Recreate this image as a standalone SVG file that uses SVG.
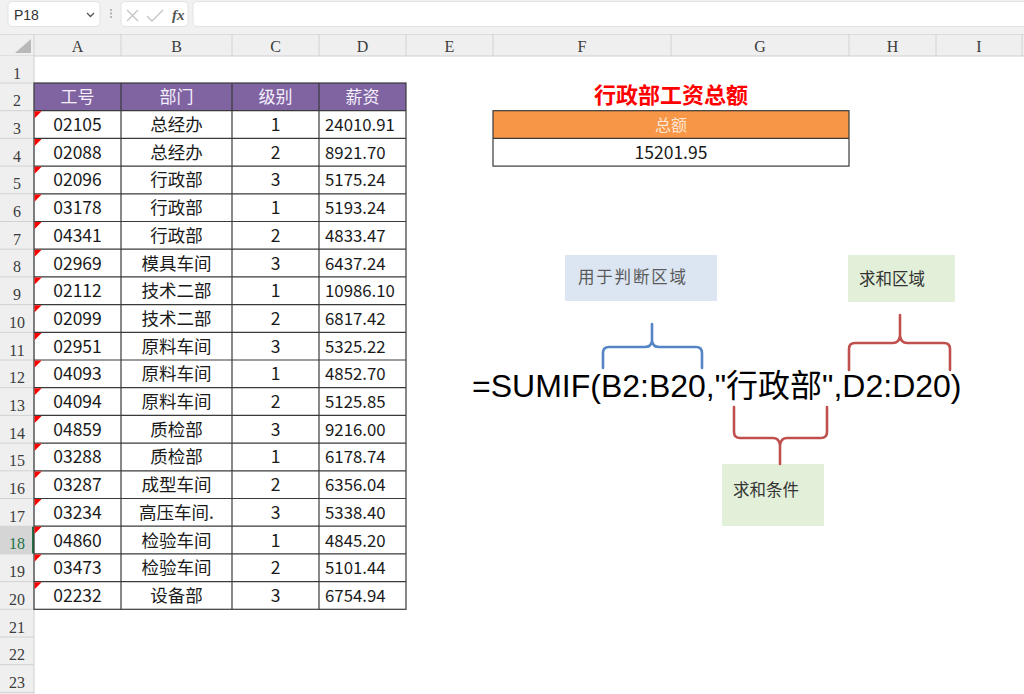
<svg xmlns="http://www.w3.org/2000/svg" width="1024" height="694" viewBox="0 0 1024 694">
<style>
.hdr{font-family:"Liberation Serif","DejaVu Serif",serif;font-size:16px;fill:#3c3c3c;text-anchor:middle}
.rn{font-family:"Liberation Serif","DejaVu Serif",serif;font-size:16px;fill:#3c3c3c;text-anchor:middle}
.cell{font-family:"Noto Sans CJK SC","Noto Sans",sans-serif;font-size:17.5px;fill:#1a1a1a;text-anchor:middle}
.num{font-family:"Noto Sans CJK SC","Noto Sans",sans-serif;font-size:16.8px;fill:#1a1a1a}
.th{font-family:"Noto Sans CJK SC","Noto Sans",sans-serif;font-size:17px;fill:#f4effa;text-anchor:middle}
.sep{stroke:#d2d2d2;stroke-width:1}
.grid{stroke:#3a3a3a;stroke-width:1.2;fill:none}
.tri{fill:#ff0000}
.brace{fill:none;stroke-width:2.6;stroke-linecap:round;stroke-linejoin:round}
.lbl{font-family:"Noto Sans CJK SC","Noto Sans",sans-serif;font-size:16.5px;fill:#333}
</style>

<!-- toolbar -->
<g id="toolbar">
<rect x="0" y="0" width="1024" height="34" fill="#f1f1f1"/>
<rect x="8" y="1.5" width="92" height="25" rx="4" fill="#ffffff" stroke="#e3e3e3"/>
<text x="14" y="19.5" font-family="Liberation Sans,Arial,sans-serif" font-size="14" fill="#333">P18</text>
<path d="M87,13 L90.5,16.5 L94,13" fill="none" stroke="#555" stroke-width="1.3"/>
<g fill="#9a9a9a"><circle cx="111" cy="10" r="0.9"/><circle cx="111" cy="13.5" r="0.9"/><circle cx="111" cy="17" r="0.9"/></g>
<rect x="121" y="1.5" width="67" height="25" rx="4" fill="#ffffff" stroke="#e3e3e3"/>
<path d="M127,10 L138,21 M138,10 L127,21" stroke="#c4c4c4" stroke-width="1.3"/>
<path d="M147,16 L152,21 L163,10" fill="none" stroke="#c4c4c4" stroke-width="1.3"/>
<text x="172" y="20" font-family="Liberation Serif,serif" font-style="italic" font-weight="bold" font-size="15" fill="#555">fx</text>
<rect x="193" y="1.5" width="840" height="25" rx="4" fill="#ffffff" stroke="#e3e3e3"/>
</g>

<!-- column headers -->
<g id="col-headers">
<rect x="0" y="34" width="1024" height="22" fill="#efefef"/>
<line x1="0" y1="34.5" x2="1024" y2="34.5" stroke="#dcdcdc"/>
<line x1="0" y1="56" x2="1024" y2="56" stroke="#cfcfcf"/>
<path d="M31,39 L31,53 L15,53 Z" fill="#b9b9b9"/>
<g class="sep">
<line x1="34" y1="34" x2="34" y2="56"/><line x1="121" y1="34" x2="121" y2="56"/><line x1="232" y1="34" x2="232" y2="56"/>
<line x1="319" y1="34" x2="319" y2="56"/><line x1="406" y1="34" x2="406" y2="56"/><line x1="493" y1="34" x2="493" y2="56"/>
<line x1="671" y1="34" x2="671" y2="56"/><line x1="849" y1="34" x2="849" y2="56"/><line x1="936" y1="34" x2="936" y2="56"/>
<line x1="1022" y1="34" x2="1022" y2="56"/>
</g>
<text class="hdr" x="77.5" y="52">A</text><text class="hdr" x="176.5" y="52">B</text><text class="hdr" x="275.5" y="52">C</text>
<text class="hdr" x="362.5" y="52">D</text><text class="hdr" x="449.5" y="52">E</text><text class="hdr" x="582" y="52">F</text>
<text class="hdr" x="760" y="52">G</text><text class="hdr" x="892.5" y="52">H</text><text class="hdr" x="979" y="52">I</text>
</g>

<!-- row headers -->
<g id="row-headers">
<rect x="0" y="56" width="34" height="638" fill="#efefef"/>
<rect x="0" y="526.2" width="34" height="27.7" fill="#d5d5d5"/>
<line x1="34" y1="56" x2="34" y2="694" stroke="#cfcfcf"/>
<line x1="33" y1="526.2" x2="33" y2="553.9" stroke="#217346" stroke-width="2"/>
<g class="sep">
<line x1="0" y1="83" x2="34" y2="83"/><line x1="0" y1="110.7" x2="34" y2="110.7"/><line x1="0" y1="138.4" x2="34" y2="138.4"/>
<line x1="0" y1="166.1" x2="34" y2="166.1"/><line x1="0" y1="193.8" x2="34" y2="193.8"/><line x1="0" y1="221.5" x2="34" y2="221.5"/>
<line x1="0" y1="249.2" x2="34" y2="249.2"/><line x1="0" y1="276.9" x2="34" y2="276.9"/><line x1="0" y1="304.6" x2="34" y2="304.6"/>
<line x1="0" y1="332.3" x2="34" y2="332.3"/><line x1="0" y1="360" x2="34" y2="360"/><line x1="0" y1="387.7" x2="34" y2="387.7"/>
<line x1="0" y1="415.4" x2="34" y2="415.4"/><line x1="0" y1="443.1" x2="34" y2="443.1"/><line x1="0" y1="470.8" x2="34" y2="470.8"/>
<line x1="0" y1="498.5" x2="34" y2="498.5"/><line x1="0" y1="526.2" x2="34" y2="526.2"/><line x1="0" y1="553.9" x2="34" y2="553.9"/>
<line x1="0" y1="581.6" x2="34" y2="581.6"/><line x1="0" y1="609.3" x2="34" y2="609.3"/><line x1="0" y1="637" x2="34" y2="637"/>
<line x1="0" y1="664.7" x2="34" y2="664.7"/><line x1="0" y1="692.4" x2="34" y2="692.4"/>
</g>
<text class="rn" x="17" y="78.5">1</text>
<text class="rn" x="17" y="106.2">2</text>
<text class="rn" x="17" y="133.9">3</text>
<text class="rn" x="17" y="161.6">4</text>
<text class="rn" x="17" y="189.3">5</text>
<text class="rn" x="17" y="217">6</text>
<text class="rn" x="17" y="244.7">7</text>
<text class="rn" x="17" y="272.4">8</text>
<text class="rn" x="17" y="300.1">9</text>
<text class="rn" x="17" y="327.8">10</text>
<text class="rn" x="17" y="355.5">11</text>
<text class="rn" x="17" y="383.2">12</text>
<text class="rn" x="17" y="410.9">13</text>
<text class="rn" x="17" y="438.6">14</text>
<text class="rn" x="17" y="466.3">15</text>
<text class="rn" x="17" y="494">16</text>
<text class="rn" x="17" y="521.7">17</text>
<text class="rn" x="17" y="549.4" style="fill:#217346">18</text>
<text class="rn" x="17" y="577.1">19</text>
<text class="rn" x="17" y="604.8">20</text>
<text class="rn" x="17" y="632.5">21</text>
<text class="rn" x="17" y="660.2">22</text>
<text class="rn" x="17" y="687.9">23</text>
</g>

<!-- data table -->
<g id="data-table">
<rect x="34" y="83" width="372" height="27.7" fill="#8064a2"/>
<text class="th" x="77.5" y="103">工号</text>
<text class="th" x="176.5" y="103">部门</text>
<text class="th" x="275.5" y="103">级别</text>
<text class="th" x="362.5" y="103">薪资</text>
<g class="grid">
<rect x="34" y="83" width="372" height="526.3"/>
<line x1="121" y1="83" x2="121" y2="609.3"/><line x1="232" y1="83" x2="232" y2="609.3"/><line x1="319" y1="83" x2="319" y2="609.3"/>
<line x1="34" y1="110.7" x2="406" y2="110.7"/><line x1="34" y1="138.4" x2="406" y2="138.4"/><line x1="34" y1="166.1" x2="406" y2="166.1"/>
<line x1="34" y1="193.8" x2="406" y2="193.8"/><line x1="34" y1="221.5" x2="406" y2="221.5"/><line x1="34" y1="249.2" x2="406" y2="249.2"/>
<line x1="34" y1="276.9" x2="406" y2="276.9"/><line x1="34" y1="304.6" x2="406" y2="304.6"/><line x1="34" y1="332.3" x2="406" y2="332.3"/>
<line x1="34" y1="360" x2="406" y2="360"/><line x1="34" y1="387.7" x2="406" y2="387.7"/><line x1="34" y1="415.4" x2="406" y2="415.4"/>
<line x1="34" y1="443.1" x2="406" y2="443.1"/><line x1="34" y1="470.8" x2="406" y2="470.8"/><line x1="34" y1="498.5" x2="406" y2="498.5"/>
<line x1="34" y1="526.2" x2="406" y2="526.2"/><line x1="34" y1="553.9" x2="406" y2="553.9"/><line x1="34" y1="581.6" x2="406" y2="581.6"/>
</g>
<g>
<path class="tri" d="M34.6,111.3 h7 l-7,7 z"/><path class="tri" d="M34.6,139 h7 l-7,7 z"/><path class="tri" d="M34.6,166.7 h7 l-7,7 z"/>
<path class="tri" d="M34.6,194.4 h7 l-7,7 z"/><path class="tri" d="M34.6,222.1 h7 l-7,7 z"/><path class="tri" d="M34.6,249.8 h7 l-7,7 z"/>
<path class="tri" d="M34.6,277.5 h7 l-7,7 z"/><path class="tri" d="M34.6,305.2 h7 l-7,7 z"/><path class="tri" d="M34.6,332.9 h7 l-7,7 z"/>
<path class="tri" d="M34.6,360.6 h7 l-7,7 z"/><path class="tri" d="M34.6,388.3 h7 l-7,7 z"/><path class="tri" d="M34.6,416 h7 l-7,7 z"/>
<path class="tri" d="M34.6,443.7 h7 l-7,7 z"/><path class="tri" d="M34.6,471.4 h7 l-7,7 z"/><path class="tri" d="M34.6,499.1 h7 l-7,7 z"/>
<path class="tri" d="M34.6,526.8 h7 l-7,7 z"/><path class="tri" d="M34.6,554.5 h7 l-7,7 z"/><path class="tri" d="M34.6,582.2 h7 l-7,7 z"/>
</g>
<g>
<text class="cell" x="77.5" y="131">02105</text><text class="cell" x="176.5" y="131">总经办</text><text class="cell" x="275.5" y="131">1</text><text class="num" x="325" y="131">24010.91</text>
<text class="cell" x="77.5" y="158.7">02088</text><text class="cell" x="176.5" y="158.7">总经办</text><text class="cell" x="275.5" y="158.7">2</text><text class="num" x="325" y="158.7">8921.70</text>
<text class="cell" x="77.5" y="186.4">02096</text><text class="cell" x="176.5" y="186.4">行政部</text><text class="cell" x="275.5" y="186.4">3</text><text class="num" x="325" y="186.4">5175.24</text>
<text class="cell" x="77.5" y="214.1">03178</text><text class="cell" x="176.5" y="214.1">行政部</text><text class="cell" x="275.5" y="214.1">1</text><text class="num" x="325" y="214.1">5193.24</text>
<text class="cell" x="77.5" y="241.8">04341</text><text class="cell" x="176.5" y="241.8">行政部</text><text class="cell" x="275.5" y="241.8">2</text><text class="num" x="325" y="241.8">4833.47</text>
<text class="cell" x="77.5" y="269.5">02969</text><text class="cell" x="176.5" y="269.5">模具车间</text><text class="cell" x="275.5" y="269.5">3</text><text class="num" x="325" y="269.5">6437.24</text>
<text class="cell" x="77.5" y="297.2">02112</text><text class="cell" x="176.5" y="297.2">技术二部</text><text class="cell" x="275.5" y="297.2">1</text><text class="num" x="325" y="297.2">10986.10</text>
<text class="cell" x="77.5" y="324.9">02099</text><text class="cell" x="176.5" y="324.9">技术二部</text><text class="cell" x="275.5" y="324.9">2</text><text class="num" x="325" y="324.9">6817.42</text>
<text class="cell" x="77.5" y="352.6">02951</text><text class="cell" x="176.5" y="352.6">原料车间</text><text class="cell" x="275.5" y="352.6">3</text><text class="num" x="325" y="352.6">5325.22</text>
<text class="cell" x="77.5" y="380.3">04093</text><text class="cell" x="176.5" y="380.3">原料车间</text><text class="cell" x="275.5" y="380.3">1</text><text class="num" x="325" y="380.3">4852.70</text>
<text class="cell" x="77.5" y="408">04094</text><text class="cell" x="176.5" y="408">原料车间</text><text class="cell" x="275.5" y="408">2</text><text class="num" x="325" y="408">5125.85</text>
<text class="cell" x="77.5" y="435.7">04859</text><text class="cell" x="176.5" y="435.7">质检部</text><text class="cell" x="275.5" y="435.7">3</text><text class="num" x="325" y="435.7">9216.00</text>
<text class="cell" x="77.5" y="463.4">03288</text><text class="cell" x="176.5" y="463.4">质检部</text><text class="cell" x="275.5" y="463.4">1</text><text class="num" x="325" y="463.4">6178.74</text>
<text class="cell" x="77.5" y="491.1">03287</text><text class="cell" x="176.5" y="491.1">成型车间</text><text class="cell" x="275.5" y="491.1">2</text><text class="num" x="325" y="491.1">6356.04</text>
<text class="cell" x="77.5" y="518.8">03234</text><text class="cell" x="176.5" y="518.8">高压车间.</text><text class="cell" x="275.5" y="518.8">3</text><text class="num" x="325" y="518.8">5338.40</text>
<text class="cell" x="77.5" y="546.5">04860</text><text class="cell" x="176.5" y="546.5">检验车间</text><text class="cell" x="275.5" y="546.5">1</text><text class="num" x="325" y="546.5">4845.20</text>
<text class="cell" x="77.5" y="574.2">03473</text><text class="cell" x="176.5" y="574.2">检验车间</text><text class="cell" x="275.5" y="574.2">2</text><text class="num" x="325" y="574.2">5101.44</text>
<text class="cell" x="77.5" y="601.9">02232</text><text class="cell" x="176.5" y="601.9">设备部</text><text class="cell" x="275.5" y="601.9">3</text><text class="num" x="325" y="601.9">6754.94</text>
</g>
</g>

<!-- summary table -->
<g id="summary">
<text x="671" y="103" text-anchor="middle" font-family="Noto Sans CJK SC,sans-serif" font-weight="bold" font-size="22" fill="#ff0000">行政部工资总额</text>
<rect x="493" y="110.7" width="356" height="27.7" fill="#f79646"/>
<rect x="493" y="110.7" width="356" height="55.4" fill="none" stroke="#3a3a3a" stroke-width="1.2"/>
<line x1="493" y1="138.4" x2="849" y2="138.4" stroke="#3a3a3a" stroke-width="1.2"/>
<text class="th" x="671" y="130.5" style="fill:#fde6d4;font-size:16px">总额</text>
<text class="cell" x="671" y="158.5">15201.95</text>
</g>

<!-- labels -->
<g id="label-range">
<rect x="565" y="255" width="152" height="46" fill="#dce6f2"/>
<text class="lbl" x="578" y="283" style="fill:#5a5a5a;letter-spacing:1.8px">用于判断区域</text>
</g>
<g id="label-sum-range">
<rect x="848" y="255" width="107" height="47" fill="#e2efd9"/>
<text class="lbl" x="859" y="285">求和区域</text>
</g>
<g id="label-criteria">
<rect x="722" y="464" width="102" height="62" fill="#e2efd9"/>
<text class="lbl" x="733" y="496">求和条件</text>
</g>

<!-- formula -->
<g id="formula">
<text x="472" y="397" font-family="Liberation Sans,Arial,Noto Sans CJK SC,sans-serif" font-size="32" fill="#000">=SUMIF(B2:B20,"行政部",D2:D20)</text>
</g>

<!-- connectors (braces) -->
<g id="connectors">
<path class="brace" stroke="#5585c5" d="M603,368 V353 Q603,347 609,347 H645 Q651,347 652,341 V324 M702,368 V353 Q702,347 696,347 H659 Q653,347 652,341"/>
<path class="brace" stroke="#c0504d" d="M849,370 V349 Q849,343 855,343 H893 Q899,343 900,336 V315 M950,370 V349 Q950,343 944,343 H907 Q901,343 900,336"/>
<path class="brace" stroke="#c0504d" d="M734,407 V432 Q734,438 740,438 H773 Q779,438 780,445 V464 M827,407 V432 Q827,438 821,438 H787 Q781,438 780,445"/>
</g>
</svg>
